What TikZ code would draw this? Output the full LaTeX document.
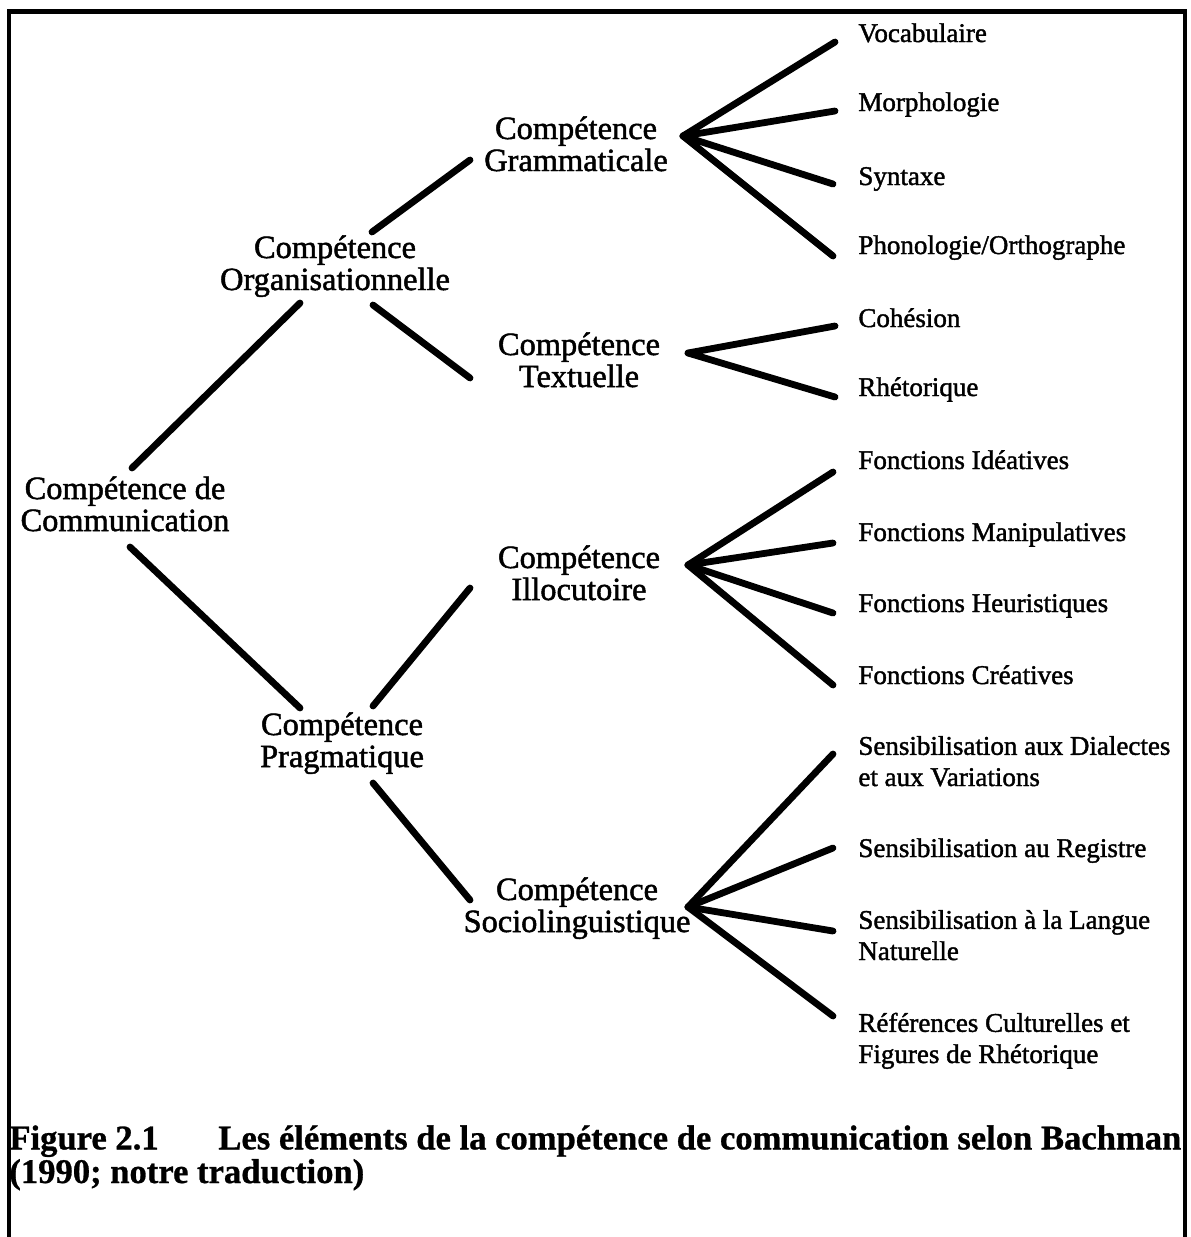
\documentclass[tikz,border=0pt]{standalone}
\usepackage{fontspec}
\setmainfont{Liberation Serif}
\newfontfamily\diagfont{Liberation Serif}[FakeBold=1.5]
\newfontfamily\capfont{Liberation Serif Bold}[FakeBold=0.8]
\begin{document}
\begin{tikzpicture}[x=0.5pt,y=-0.5pt,
  mainlbl/.style={inner sep=0pt,align=center,anchor=base,
    font=\diagfont\fontsize{16.2pt}{16pt}\selectfont},
  leaflbl/.style={inner sep=0pt,align=left,anchor=base west,
    font=\diagfont\fontsize{13.5pt}{15.6pt}\selectfont},
  conn/.style={line width=3.4pt,line cap=round},
  frame/.style={line width=2.2pt}]
\useasboundingbox (0,0) rectangle (1190,1237);
% frame
\coordinate (fbl) at (9,1237);
\coordinate (ftl) at (9,11.5);
\coordinate (ftr) at (1185,11.5);
\coordinate (fbr) at (1185,1237);
\draw[frame] (fbl) -- (ftl) -- (ftr) -- (fbr);

% main nodes (anchor = baseline of last line)
\node[mainlbl] (root) at (125,531) {Compétence de\\Communication};
\node[mainlbl] (org) at (335,290) {Compétence\\Organisationnelle};
\node[mainlbl] (prag) at (342,767) {Compétence\\Pragmatique};
\node[mainlbl] (gram) at (576,171) {Compétence\\Grammaticale};
\node[mainlbl] (text) at (579,387) {Compétence\\Textuelle};
\node[mainlbl] (illoc) at (579,600) {Compétence\\Illocutoire};
\node[mainlbl] (socio) at (577,932) {Compétence\\Sociolinguistique};

% leaves
\node[leaflbl] (voc) at (858,42) {Vocabulaire};
\node[leaflbl] (mor) at (858,111) {Morphologie};
\node[leaflbl] (syn) at (858,185) {Syntaxe};
\node[leaflbl] (pho) at (858,254) {Phonologie/Orthographe};
\node[leaflbl] (coh) at (858,327) {Cohésion};
\node[leaflbl] (rhe) at (858,396) {Rhétorique};
\node[leaflbl] (ide) at (858,469) {Fonctions Idéatives};
\node[leaflbl] (man) at (858,541) {Fonctions Manipulatives};
\node[leaflbl] (heu) at (858,612) {Fonctions Heuristiques};
\node[leaflbl] (cre) at (858,684) {Fonctions Créatives};
\node[leaflbl] (dia) at (858,786) {Sensibilisation aux Dialectes\\et aux Variations};
\node[leaflbl] (reg) at (858,857) {Sensibilisation au Registre};
\node[leaflbl] (lan) at (858,960) {Sensibilisation à la Langue\\Naturelle};
\node[leaflbl] (ref) at (858,1063) {Références Culturelles et\\Figures de Rhétorique};

% caption
\node[inner sep=0pt,align=left,anchor=base west,
  font=\capfont\fontsize{17.3pt}{15.5pt}\selectfont] (cap) at (9,1183)
  {\makebox[104.5pt][l]{Figure 2.1}Les éléments de la compétence de communication selon Bachman\\(1990; notre traduction)};

% connector end points
\coordinate (rootNE) at (132,468);
\coordinate (rootSE) at (130,547);
\coordinate (orgSW) at (300,303);
\coordinate (pragNW) at (300,708);
\coordinate (orgNE) at (372,232);
\coordinate (orgSE) at (373,305);
\coordinate (gramW) at (470,160);
\coordinate (textW) at (470,378);
\coordinate (pragNE) at (373,706);
\coordinate (pragSE) at (373,783);
\coordinate (illocW) at (470,588);
\coordinate (socioW) at (470,900);
\coordinate (gA) at (683,136);
\coordinate (tA) at (688,353);
\coordinate (iA) at (688,565);
\coordinate (sA) at (688,907);
\coordinate (vocW) at (835,42);
\coordinate (morW) at (835,111);
\coordinate (synW) at (833,184);
\coordinate (phoW) at (833,256);
\coordinate (cohW) at (835,326);
\coordinate (rheW) at (835,397);
\coordinate (ideW) at (833,472);
\coordinate (manW) at (833,543);
\coordinate (heuW) at (833,613);
\coordinate (creW) at (833,685);
\coordinate (diaW) at (833,754);
\coordinate (regW) at (833,848);
\coordinate (lanW) at (833,931);
\coordinate (refW) at (833,1016);

\draw[conn] (rootNE) -- (orgSW);
\draw[conn] (rootSE) -- (pragNW);
\draw[conn] (orgNE) -- (gramW);
\draw[conn] (orgSE) -- (textW);
\draw[conn] (pragNE) -- (illocW);
\draw[conn] (pragSE) -- (socioW);
\draw[conn] (gA) -- (vocW);
\draw[conn] (gA) -- (morW);
\draw[conn] (gA) -- (synW);
\draw[conn] (gA) -- (phoW);
\draw[conn] (tA) -- (cohW);
\draw[conn] (tA) -- (rheW);
\draw[conn] (iA) -- (ideW);
\draw[conn] (iA) -- (manW);
\draw[conn] (iA) -- (heuW);
\draw[conn] (iA) -- (creW);
\draw[conn] (sA) -- (diaW);
\draw[conn] (sA) -- (regW);
\draw[conn] (sA) -- (lanW);
\draw[conn] (sA) -- (refW);
\end{tikzpicture}
\end{document}
